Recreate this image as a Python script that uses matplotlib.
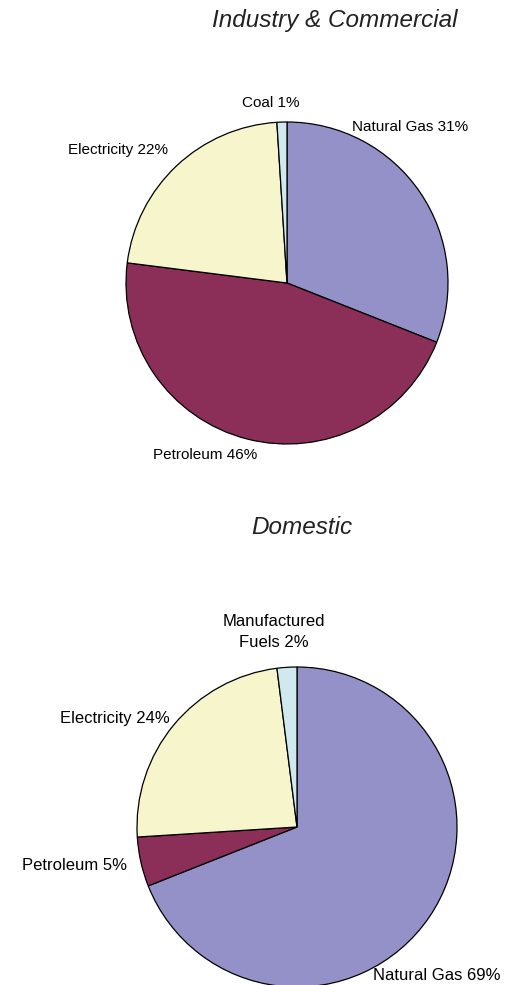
import matplotlib.pyplot as plt

plt.rcParams['font.family'] = ['Liberation Sans', 'DejaVu Sans']

colors = ['#9491c8', '#8b2e58', '#f6f5cc', '#cfe9ef']

ind_labels = ['Natural Gas 31%', 'Petroleum 46%', 'Electricity 22%', 'Coal 1%']
ind_values = [31, 46, 22, 1]

dom_labels = ['Natural Gas 69%', 'Petroleum 5%', 'Electricity 24%', 'Manufactured\nFuels 2%']
dom_values = [69, 5, 24, 2]

W, H = 506, 985
fig = plt.figure(figsize=(W / 100, H / 100), dpi=100)


def pie_axes(cx, cy, r):
    # pixel centre/radius -> figure fraction axes
    return fig.add_axes([(cx - r) / W, (H - cy - r) / H, 2 * r / W, 2 * r / H])


def px(x, y):
    return x / W, 1 - y / H


ax0 = pie_axes(287, 283, 161)
ax0.pie(ind_values, colors=colors, startangle=90, counterclock=False,
        wedgeprops=dict(edgecolor='black', linewidth=0.9))
ax0.set_xlim(-1, 1)
ax0.set_ylim(-1, 1)

ax1 = pie_axes(297, 827, 160)
w, _ = ax1.pie(dom_values, colors=colors, startangle=90, counterclock=False,
               wedgeprops=dict(edgecolor='black', linewidth=0.9))
for p in w:
    p.set_clip_on(False)
ax1.set_xlim(-1, 1)
ax1.set_ylim(-1, 1)

fig.text(*px(335, 20), 'Industry & Commercial', style='italic', fontsize=17.5,
         ha='center', va='center', color='#222222')
fig.text(*px(302, 528), 'Domestic', style='italic', fontsize=17.5,
         ha='center', va='center', color='#222222')

fs = 11
# industry & commercial labels
fig.text(*px(352, 127), ind_labels[0], fontsize=fs, ha='left', va='center')
fig.text(*px(153, 455), ind_labels[1], fontsize=fs, ha='left', va='center')
fig.text(*px(168, 150), ind_labels[2], fontsize=fs, ha='right', va='center')
fig.text(*px(271, 103), ind_labels[3], fontsize=fs, ha='center', va='center')

fs2 = 12
# domestic labels
fig.text(*px(373, 975), dom_labels[0], fontsize=fs2, ha='left', va='center')
fig.text(*px(22, 866), dom_labels[1], fontsize=fs2, ha='left', va='center')
fig.text(*px(60, 718), dom_labels[2], fontsize=fs2, ha='left', va='center')
fig.text(*px(274, 632), dom_labels[3], fontsize=fs2, ha='center', va='center',
         linespacing=1.45)

fig.savefig('out.png', dpi=100, facecolor='white')
